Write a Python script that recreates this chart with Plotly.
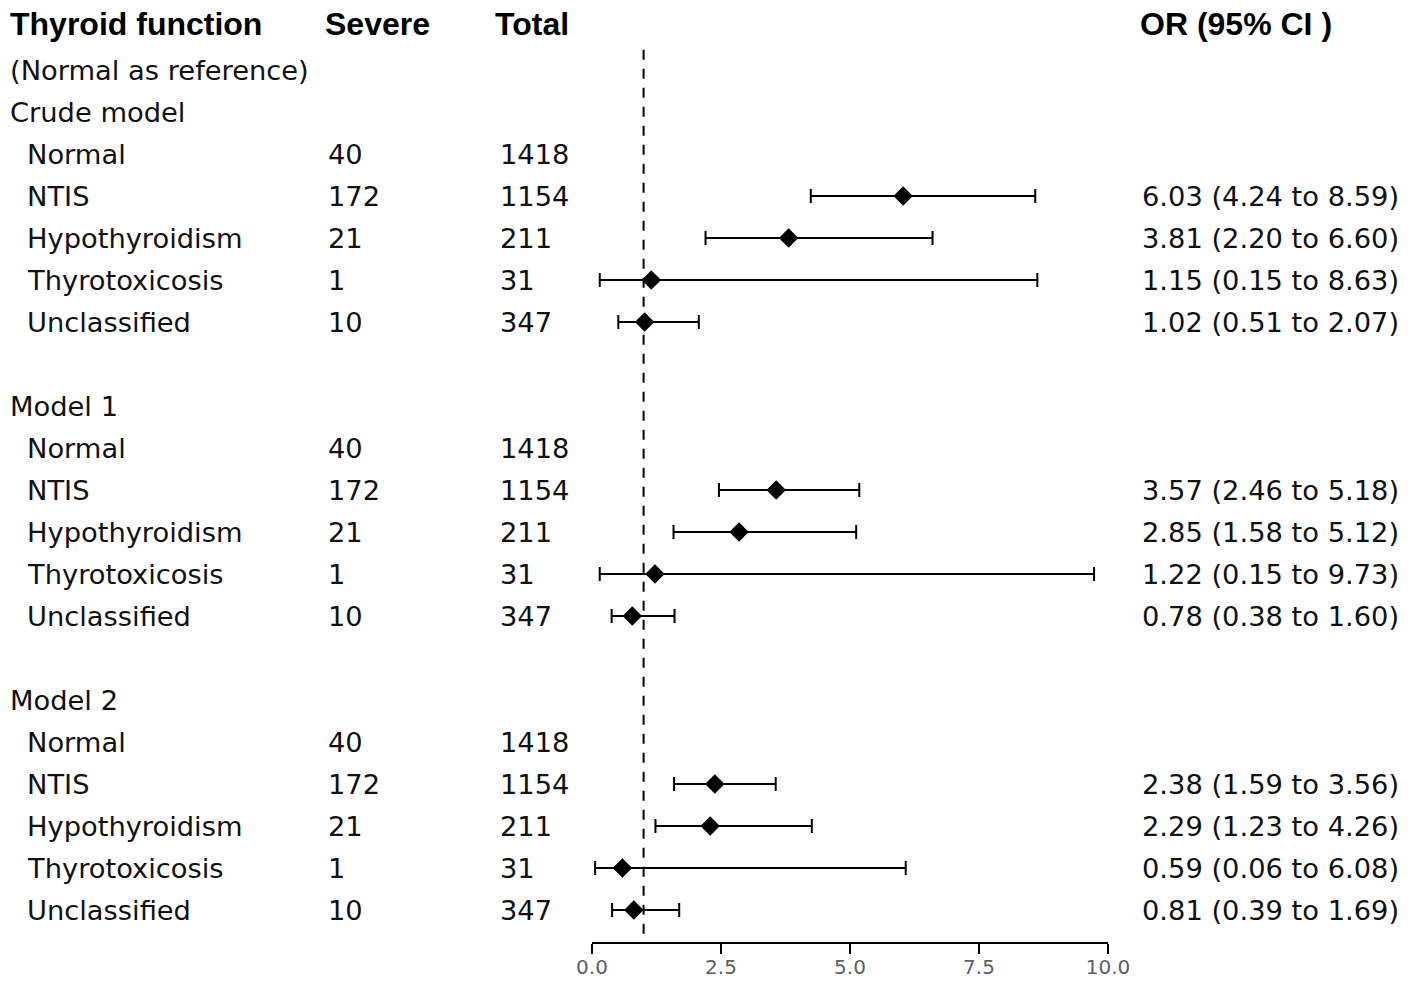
import plotly.graph_objects as go

# table data
models = ["Crude model", "Model 1", "Model 2"]
categories = ["Normal", "NTIS", "Hypothyroidism", "Thyrotoxicosis", "Unclassified"]
severe = [40, 172, 21, 1, 10]
total = [1418, 1154, 211, 31, 347]

# odds ratios per model, Normal is the reference (None)
or_est = [
    [None, 6.03, 3.81, 1.15, 1.02],
    [None, 3.57, 2.85, 1.22, 0.78],
    [None, 2.38, 2.29, 0.59, 0.81],
]
ci_low = [
    [None, 4.24, 2.20, 0.15, 0.51],
    [None, 2.46, 1.58, 0.15, 0.38],
    [None, 1.59, 1.23, 0.06, 0.39],
]
ci_high = [
    [None, 8.59, 6.60, 8.63, 2.07],
    [None, 5.18, 5.12, 9.73, 1.60],
    [None, 3.56, 4.26, 6.08, 1.69],
]

tick_vals = [0, 2.5, 5, 7.5, 10]
tick_text = ["0.0", "2.5", "5.0", "7.5", "10.0"]

W, H = 1426, 990
TXT = dict(family="DejaVu Sans", size=27.3, color="#111111")
HDR = dict(family="Liberation Sans, Arial", size=32, color="#000000")

# rows are 42px apart, row 1 sits at 70px; axis line at 942px
ROW0, ROWH, AXIS = 28, 42, 942


def px(x):
    return x / W


annotations = []


def add_text(x, y, text, font=TXT):
    annotations.append(dict(x=px(x), y=y, xref="paper", yref="y", text=text,
                            showarrow=False, xanchor="left", yanchor="middle",
                            font=font))


# header
hy = -0.1
add_text(8, hy, "<b>Thyroid function</b>", HDR)
add_text(323, hy, "<b>Severe</b>", HDR)
add_text(493, hy, "<b>Total</b>", HDR)
add_text(1138, hy, "<b>OR (95% CI )</b>", HDR)
add_text(8, 1, "(Normal as reference)")

pts_x, pts_y, err_p, err_m = [], [], [], []
row = 2
for m, name in enumerate(models):
    add_text(8, row, name)
    row += 1
    for k, cat in enumerate(categories):
        add_text(25, row, cat)
        add_text(326, row, str(severe[k]))
        add_text(498, row, str(total[k]))
        est = or_est[m][k]
        if est is not None:
            lo, hi = ci_low[m][k], ci_high[m][k]
            pts_x.append(est)
            pts_y.append(row)
            err_p.append(hi - est)
            err_m.append(est - lo)
            add_text(1140, row, f"{est:.2f} ({lo:.2f} to {hi:.2f})")
        row += 1
    row += 1

fig = go.Figure()
fig.add_trace(go.Scatter(
    x=pts_x, y=pts_y, mode="markers",
    marker=dict(symbol="diamond", size=15, color="black"),
    error_x=dict(type="data", symmetric=False, array=err_p, arrayminus=err_m,
                 color="black", thickness=2, width=7),
    showlegend=False, cliponaxis=False,
))

y_top = -ROW0 / ROWH
y_bottom = (AXIS - ROW0) / ROWH

fig.add_shape(type="line", xref="x", yref="y", x0=1, x1=1, y0=0.52, y1=y_bottom,
              line=dict(color="black", width=2, dash="10px,9px"))

fig.update_layout(
    width=W, height=H,
    margin=dict(l=0, r=0, t=0, b=H - AXIS, autoexpand=False),
    paper_bgcolor="white", plot_bgcolor="white",
    annotations=annotations,
    xaxis=dict(domain=[px(592), px(1108)], range=[0, 10],
               tickvals=tick_vals, ticktext=tick_text,
               showline=True, linecolor="black", linewidth=2,
               ticks="outside", ticklen=10, tickwidth=2, tickcolor="black",
               ticklabelstandoff=-4,
               tickfont=dict(family="DejaVu Sans", size=20, color="#5f5f5f"),
               showgrid=False, zeroline=False, fixedrange=True),
    yaxis=dict(range=[y_bottom, y_top], visible=False, fixedrange=True),
)

fig.write_html("out.html", config={"displayModeBar": False},
               post_script="document.body.style.margin='0';")
